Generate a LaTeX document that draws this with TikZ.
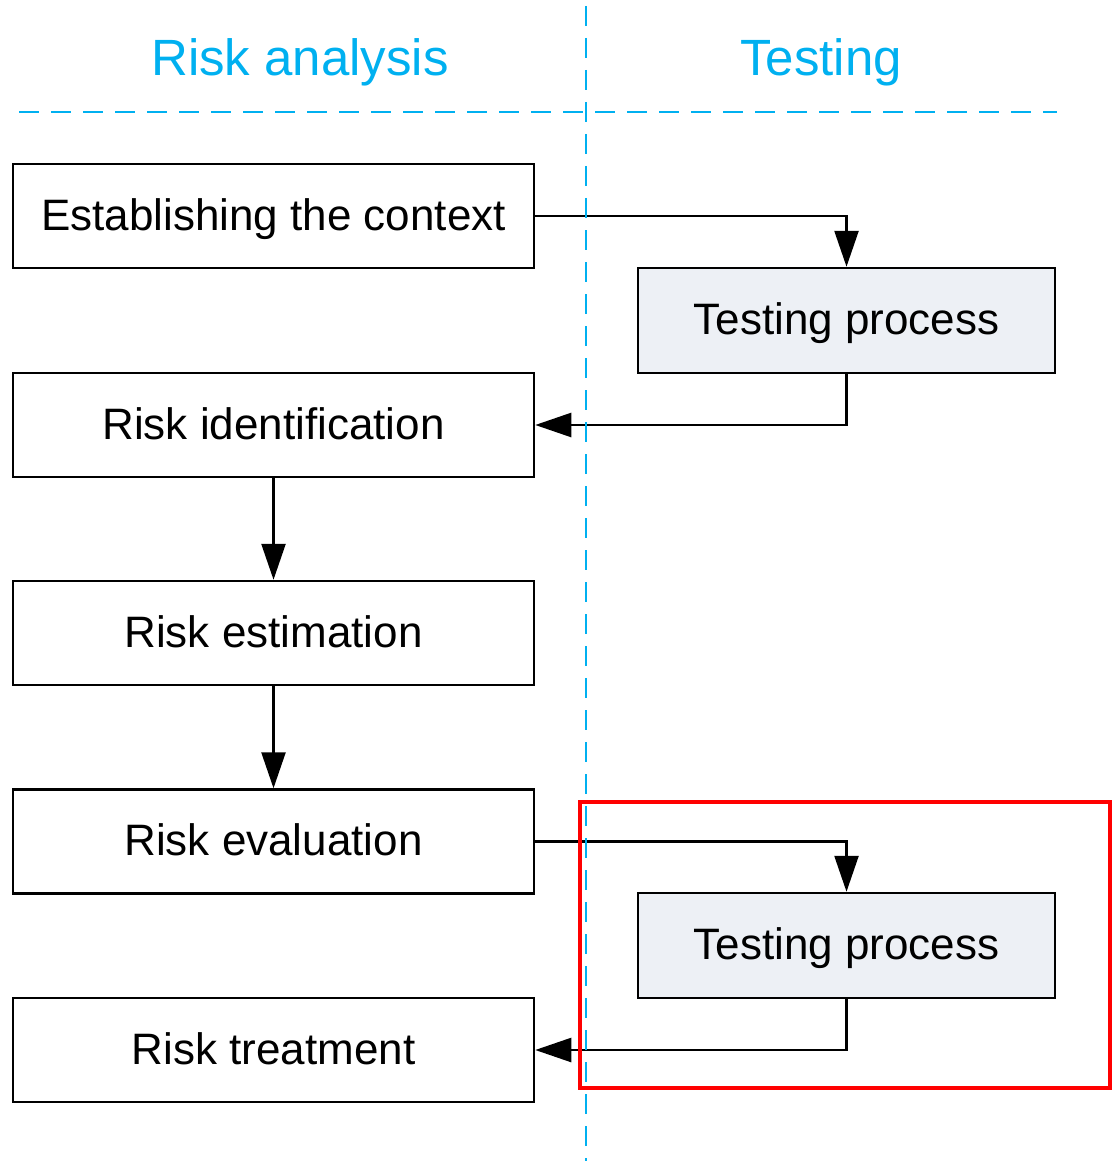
\documentclass[tikz,border=0pt]{standalone}
\usepackage{fontspec}
\setmainfont{Liberation Sans}
\usetikzlibrary{arrows.meta}
\definecolor{lane}{HTML}{00B0F0}
\definecolor{procfill}{HTML}{EDF0F5}
\tikzset{
  stagebox/.style={draw=black, line width=2.5pt, rectangle, inner sep=0pt,
    minimum width=521pt, minimum height=104pt,
    font=\fontsize{44}{52}\selectfont, text height=28pt, text depth=0pt},
  testbox/.style={stagebox, fill=procfill, minimum width=417pt, minimum height=105pt},
  flow/.style={draw=black, line width=2.5pt, -{Triangle[length=36pt, width=24pt]}},
  lanetitle/.style={text=lane, font=\fontsize{51}{61}\selectfont, anchor=base, inner sep=0pt},
  laneline/.style={draw=lane, line width=2.5pt, dash pattern=on 20pt off 12pt},
}
\begin{document}
\begin{tikzpicture}[x=1pt, y=-1pt]
  \useasboundingbox (0,0) rectangle (1114,1161);

  % lane titles
  \node[lanetitle] (titleRA) at (300,76) {Risk analysis};
  \node[lanetitle] (titleT) at (821,76) {Testing};

  % risk analysis stages
  \node[stagebox] (ctx)  at (273.5,216)  {Establishing the context};
  \node[stagebox] (rid)  at (273.5,425)  {Risk identification};
  \node[stagebox] (rest) at (273.5,633)  {Risk estimation};
  \node[stagebox] (rev)  at (273.5,841.5){Risk evaluation};
  \node[stagebox] (rtr)  at (273.5,1050) {Risk treatment};

  % testing processes
  \node[testbox] (tp1) at (846.5,320.5) {Testing process};
  \node[testbox] (tp2) at (846.5,945.5) {Testing process};

  % flow between stages
  \draw[flow] (ctx.east) -| (tp1.north);
  \draw[flow] (tp1.south) |- (rid.east);
  \draw[flow] (rid.south) -- (rest.north);
  \draw[flow] (rest.south) -- (rev.north);
  \draw[flow] (rev.east) -| (tp2.north);
  \draw[flow] (tp2.south) |- (rtr.east);

  % highlight around the second testing process
  \draw[red, line width=4pt] (580,802) rectangle (1110,1088);

  % lane separators
  \coordinate (vtop) at (586,6);
  \coordinate (vbot) at (586,1161);
  \coordinate (hl) at (19,112);
  \coordinate (hr) at (1057,112);
  \draw[laneline] (vtop) -- (vbot);
  \draw[laneline] (hl) -- (hr);
\end{tikzpicture}
\end{document}
